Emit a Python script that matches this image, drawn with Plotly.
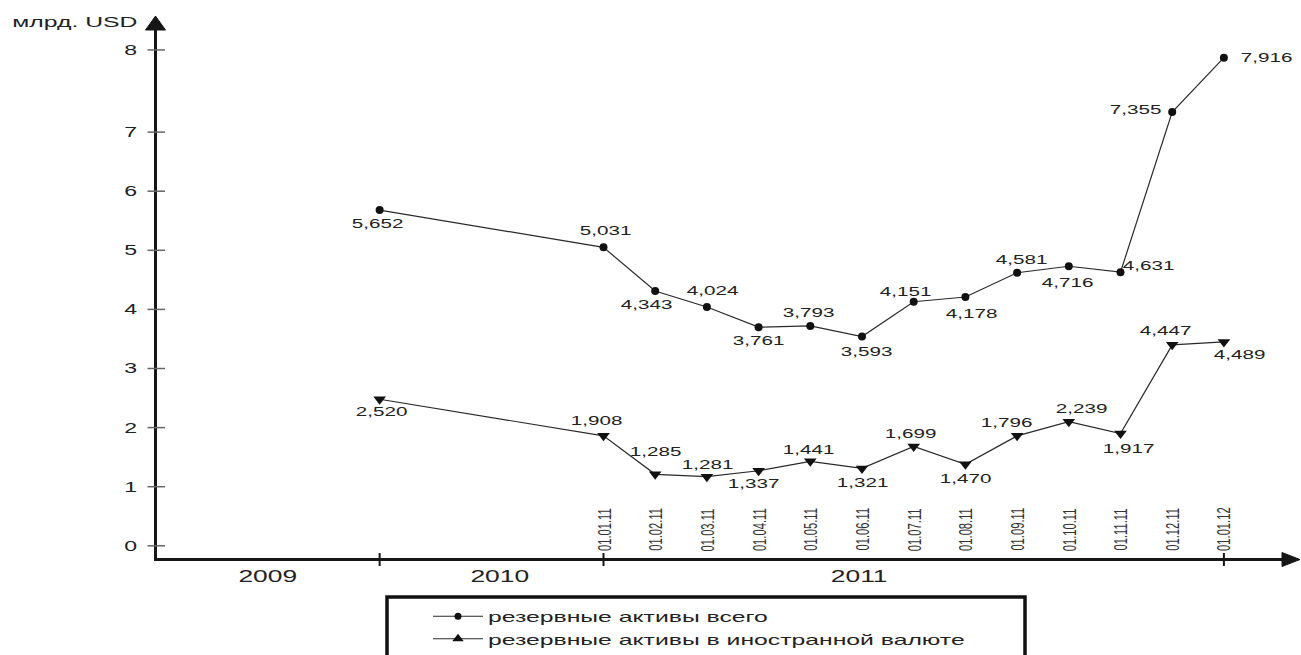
import plotly.graph_objects as go

# ---------------- data ----------------
dates = ["01.01.10", "01.01.11", "01.02.11", "01.03.11", "01.04.11", "01.05.11",
         "01.06.11", "01.07.11", "01.08.11", "01.09.11", "01.10.11", "01.11.11",
         "01.12.11", "01.01.12"]
date_tick_labels = ["01.01.11", "01.02.11", "01.03.11", "01.04.11", "01.05.11",
                    "01.06.11", "01.07.11", "01.08.11", "01.09.11", "01.10.11",
                    "01.11.11", "01.12.11", "01.01.12"]
total_values = [5.68, 5.05, 4.31, 4.04, 3.70, 3.72, 3.54, 4.13, 4.21, 4.62, 4.73, 4.63, 7.34, 8.26]
total_labels = ["5,652", "5,031", "4,343", "4,024", "3,761", "3,793", "3,593",
                "4,151", "4,178", "4,581", "4,716", "4,631", "7,355", "7,916"]
fx_values = [2.48, 1.86, 1.21, 1.17, 1.27, 1.43, 1.31, 1.68, 1.38, 1.86, 2.10, 1.90, 3.40, 3.45]
fx_labels = ["2,520", "1,908", "1,285", "1,281", "1,337", "1,441", "1,321",
             "1,699", "1,470", "1,796", "2,239", "1,917", "4,447", "4,489"]
years = ["2009", "2010", "2011"]
year_bounds = ["01.01.10", "01.01.11", "01.01.12"]
y_tick_values = [0, 1, 2, 3, 4, 5, 6, 7, 8.39]
y_tick_text = ["0", "1", "2", "3", "4", "5", "6", "7", "8"]
series_names = ["резервные активы всего", "резервные активы в иностранной валюте"]
y_title = "млрд. USD"

# ---------------- layout constants ----------------
W_PX, H_PX = 1301, 655
L, R, T, B = 157, 1296, 25, 558          # plot area in pixels
PX_PER_MONTH = 51.7
X0_PX = 603.5                            # pixel of 01.01.11
PX_PER_UNIT_Y = 59.1
Y0_PX = 545.8                            # pixel of value 0
COMPRESSED_YEAR = 4.33                   # width of 2009 / 2010 in month units
FONT = "Liberation Sans, Arial, sans-serif"
TEXT_COLOR = "#222222"
AXIS_COLOR = "#161616"

# label offsets (dx, dy) in px relative to each point (dy positive = down)
total_offsets = [(-2, 14), (2, -16), (-9, 14), (6, -16), (0, 14), (-2, -13), (4, 15),
                 (-8, -10), (6, 17), (4, -13), (-1, 17), (28, -6), (-37, -2), (43, 0)]
fx_offsets = [(2, 13), (-7, -15), (0, -22), (1, -12), (-5, 13), (-2, -11), (0, 15),
              (-3, -13), (0, 15), (-11, -13), (13, -13), (8, 15), (-7, -14), (16, 13)]


def date_x(s):
    d, m, y = (int(p) for p in s.split("."))
    y += 2000
    if y >= 2011:
        return 12 * (y - 2011) + (m - 1) + (d - 1) / 30.0
    return (y - 2011) * COMPRESSED_YEAR + (m - 1) / 12.0 * COMPRESSED_YEAR


def xp(px):
    return (px - L) / (R - L)


def yp(py):
    return (B - py) / (B - T)


x = [date_x(d) for d in dates]
x_range = [(L - X0_PX) / PX_PER_MONTH, (R - X0_PX) / PX_PER_MONTH]
y_range = [(Y0_PX - B) / PX_PER_UNIT_Y, (Y0_PX - T) / PX_PER_UNIT_Y]

fig = go.Figure()
fig.add_trace(go.Scatter(
    x=x, y=total_values, mode="lines+markers", showlegend=False, cliponaxis=False,
    line=dict(color="#2a2a2a", width=1.2),
    marker=dict(symbol="circle", size=8, color="#111111")))
fig.add_trace(go.Scatter(
    x=x, y=fx_values, mode="lines+markers", showlegend=False, cliponaxis=False,
    line=dict(color="#2a2a2a", width=1.2),
    marker=dict(symbol="triangle-down", size=11, color="#111111")))
# legend entries
fig.add_trace(go.Scatter(
    x=[None], y=[None], mode="lines+markers", name=series_names[0],
    line=dict(color="#2a2a2a", width=1.2),
    marker=dict(symbol="circle", size=7, color="#111111")))
fig.add_trace(go.Scatter(
    x=[None], y=[None], mode="lines+markers", name=series_names[1],
    line=dict(color="#2a2a2a", width=1.2),
    marker=dict(symbol="triangle-up", size=10, color="#111111")))

annotations = []
for xi, yi, lab, (dx, dy) in zip(x, total_values, total_labels, total_offsets):
    annotations.append(dict(x=xi, y=yi, xref="x", yref="y", text=lab, showarrow=False,
                            xshift=dx, yshift=-dy, xanchor="center", yanchor="middle",
                            font=dict(family=FONT, size=12.5, color=TEXT_COLOR)))
for xi, yi, lab, (dx, dy) in zip(x, fx_values, fx_labels, fx_offsets):
    annotations.append(dict(x=xi, y=yi, xref="x", yref="y", text=lab, showarrow=False,
                            xshift=dx, yshift=-dy, xanchor="center", yanchor="middle",
                            font=dict(family=FONT, size=12.5, color=TEXT_COLOR)))
for d in date_tick_labels:
    annotations.append(dict(x=date_x(d), y=yp(553), xref="x", yref="paper", text=d,
                            showarrow=False, textangle=-90, xanchor="center",
                            yanchor="bottom",
                            font=dict(family=FONT, size=11.2, color="#333333")))
for yr, cx in zip(years, [268, 500, 860]):
    annotations.append(dict(x=xp(cx), y=yp(576), xref="paper", yref="paper", text=yr,
                            showarrow=False, xanchor="center", yanchor="middle",
                            font=dict(family=FONT, size=16, color=TEXT_COLOR)))
annotations.append(dict(x=xp(75), y=yp(21), xref="paper", yref="paper", text=y_title,
                        showarrow=False, xanchor="center", yanchor="middle",
                        font=dict(family=FONT, size=15, color=TEXT_COLOR)))

shapes = []
for v in y_tick_values:
    shapes.append(dict(type="line", xref="paper", yref="y", x0=xp(147.5), x1=xp(165),
                       y0=v, y1=v, line=dict(color="#666666", width=1.5)))
for d in year_bounds:
    xb = date_x(d)
    shapes.append(dict(type="line", xref="x", yref="paper", x0=xb, x1=xb,
                       y0=yp(553), y1=yp(566), line=dict(color=AXIS_COLOR, width=2)))
# arrowheads of the axes
shapes.append(dict(type="path", xref="paper", yref="paper", fillcolor=AXIS_COLOR,
                   line=dict(color=AXIS_COLOR, width=1),
                   path="M {} {} L {} {} L {} {} Z".format(
                       xp(L - 1.5), yp(16), xp(L - 11.5), yp(30), xp(L + 8.5), yp(30))))
shapes.append(dict(type="path", xref="paper", yref="paper", fillcolor=AXIS_COLOR,
                   line=dict(color=AXIS_COLOR, width=1),
                   path="M {} {} L {} {} L {} {} Z".format(
                       xp(1300), yp(B + 1.5), xp(1282), yp(B - 5.5), xp(1282), yp(B + 8.5))))
# legend frame
shapes.append(dict(type="rect", xref="paper", yref="paper",
                   x0=xp(387), x1=xp(1025), y0=yp(680), y1=yp(597),
                   line=dict(color="#111111", width=3.5), fillcolor="rgba(0,0,0,0)"))

fig.update_layout(
    width=W_PX, height=H_PX,
    margin=dict(l=L, r=W_PX - R, t=T, b=H_PX - B, pad=0, autoexpand=False),
    paper_bgcolor="white", plot_bgcolor="white",
    font=dict(family=FONT, color=TEXT_COLOR),
    xaxis=dict(range=x_range, showgrid=False, zeroline=False, showline=True,
               linecolor=AXIS_COLOR, linewidth=3, showticklabels=False, ticks=""),
    yaxis=dict(range=y_range, showgrid=False, zeroline=False, showline=True,
               linecolor=AXIS_COLOR, linewidth=3, ticks="",
               tickvals=y_tick_values, ticktext=y_tick_text,
               ticklabelstandoff=14,
               tickfont=dict(family=FONT, size=14, color=TEXT_COLOR)),
    showlegend=True,
    legend=dict(x=xp(428), y=1 - 600 / H_PX, yref="container",
                xanchor="left", yanchor="top",
                bgcolor="rgba(0,0,0,0)", borderwidth=0, itemwidth=50,
                font=dict(family=FONT, size=15, color=TEXT_COLOR),
                tracegroupgap=0),
    annotations=annotations,
    shapes=shapes,
)

# The reference picture is stretched horizontally; widen every text the same way
post_js = """
(function(){
  var K = 1.65;
  var gd = document.getElementById('{plot_id}');
  if (!gd) return;
  var svg = gd.querySelector('svg.main-svg');
  gd.querySelectorAll('.legend, .legend [clip-path]').forEach(function(e){ e.removeAttribute('clip-path'); });
  gd.querySelectorAll('text').forEach(function(t){
    if (!t.textContent || !t.textContent.trim()) return;
    var r = t.getBoundingClientRect();
    var anchor = t.getAttribute('text-anchor') || t.style.textAnchor || 'start';
    var sx = anchor === 'end' ? r.right : (anchor === 'middle' ? r.left + r.width / 2 : r.left);
    var P = t.parentNode.getScreenCTM();
    var S = svg.createSVGMatrix().translate(sx, 0).scaleNonUniform(K, 1).translate(-sx, 0);
    var own = t.transform.baseVal.consolidate();
    var Tm = own ? own.matrix : svg.createSVGMatrix();
    var M = P.inverse().multiply(S).multiply(P).multiply(Tm);
    t.transform.baseVal.initialize(t.transform.baseVal.createSVGTransformFromMatrix(M));
  });
})();
"""

fig.write_html("out.html", post_script=post_js)
